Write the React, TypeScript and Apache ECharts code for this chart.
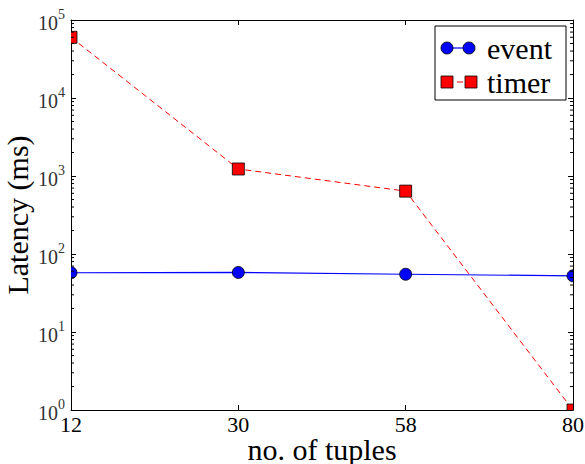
import React, { useEffect, useRef } from "react";
import * as echarts from "echarts";

const categories = ["12", "30", "58", "80"];
const eventLatency = [57.5, 58, 55, 52.5];
const timerLatency = [60000, 1230, 640, 1];
const yMin = 1;
const yMax = 100000;
const minorMultipliers = [2, 3, 4, 5, 6, 7, 8, 9];
const decadeStarts = [1, 10, 100, 1000, 10000];

const FONT = "'Liberation Serif', 'DejaVu Serif', serif";

export default function App() {
  const ref = useRef<HTMLDivElement>(null);

  useEffect(() => {
    if (!ref.current) return;
    const chart = echarts.init(ref.current, undefined, { renderer: "svg" });

    const minorValues: number[][] = [];
    decadeStarts.forEach((d) =>
      minorMultipliers.forEach((m) => minorValues.push([0, d * m]))
    );

    const lastIdx = categories.length - 1;

    const yAxisBase = {
      type: "log",
      logBase: 10,
      min: yMin,
      max: yMax,
      splitLine: { show: false },
      axisLine: { show: true, lineStyle: { color: "#000", width: 1 } },
      axisTick: { show: true, inside: true, length: 5, lineStyle: { color: "#000" } },
      minorTick: { show: false },
    };

    const option: any = {
      animation: false,
      backgroundColor: "#fff",
      textStyle: { fontFamily: FONT, color: "#000" },
      grid: { left: 71, right: 12, top: 20, bottom: 54, containLabel: false, outerBoundsMode: "none" },
      xAxis: [
        {
          type: "category",
          data: categories,
          boundaryGap: false,
          position: "bottom",
          name: "no. of tuples",
          nameLocation: "middle",
          nameGap: 24,
          nameMoveOverlap: false,
          nameTextStyle: { fontFamily: FONT, fontSize: 30, color: "#000" },
          axisLine: { show: true, onZero: false, lineStyle: { color: "#000", width: 1 } },
          axisTick: { show: true, inside: true, length: 5, alignWithLabel: true, lineStyle: { color: "#000" } },
          axisLabel: { fontFamily: FONT, fontSize: 22, color: "#000", margin: 3 },
          splitLine: { show: false },
        },
        {
          type: "category",
          data: categories,
          boundaryGap: false,
          position: "top",
          axisLine: { show: true, onZero: false, lineStyle: { color: "#000", width: 1 } },
          axisTick: { show: true, inside: true, length: 5, lineStyle: { color: "#000" } },
          axisLabel: { show: false },
          splitLine: { show: false },
        },
      ],
      yAxis: [
        {
          ...yAxisBase,
          position: "left",
          name: "Latency (ms)",
          nameLocation: "middle",
          nameGap: 39,
          nameMoveOverlap: false,
          nameTextStyle: { fontFamily: FONT, fontSize: 30, lineHeight: 30, color: "#000" },
          axisLabel: {
            margin: 6,
            fontFamily: FONT,
            formatter: (v: number) => `{b|10}{s|${Math.round(Math.log10(v))}}`,
            rich: {
              b: { fontFamily: FONT, fontSize: 20, color: "#333", verticalAlign: "bottom", lineHeight: 26 },
              s: { fontFamily: FONT, fontSize: 14, color: "#333", verticalAlign: "top", lineHeight: 26 },
            },
          },
        },
        {
          ...yAxisBase,
          position: "right",
          axisLabel: { show: false },
        },
      ],
      series: [
        {
          name: "event",
          type: "line",
          data: eventLatency,
          symbol: "none",
          lineStyle: { color: "#0000ff", width: 1.2 },
          clip: true,
          z: 2,
        },
        {
          name: "timer",
          type: "line",
          data: timerLatency,
          symbol: "none",
          lineStyle: { color: "#ff0000", width: 1, type: [6, 4] },
          clip: true,
          z: 2,
        },
        {
          name: "eventMarkers",
          type: "custom",
          clip: true,
          silent: true,
          z: 3,
          data: eventLatency.map((v, i) => [i, v]),
          renderItem: (params: any, api: any) => {
            const p = api.coord([api.value(0), api.value(1)]);
            return {
              type: "circle",
              shape: { cx: p[0], cy: p[1], r: 6 },
              style: { fill: "#0000ff", stroke: "#000", lineWidth: 0.8 },
            };
          },
        },
        {
          name: "timerMarkers",
          type: "custom",
          clip: true,
          silent: true,
          z: 3,
          data: timerLatency.map((v, i) => [i, v]),
          renderItem: (params: any, api: any) => {
            const p = api.coord([api.value(0), api.value(1)]);
            return {
              type: "rect",
              shape: { x: p[0] - 6, y: p[1] - 6, width: 12, height: 12 },
              style: { fill: "#ff0000", stroke: "#000", lineWidth: 0.8 },
            };
          },
        },
        {
          name: "minorTicks",
          type: "custom",
          silent: true,
          z: 4,
          data: minorValues,
          renderItem: (params: any, api: any) => {
            const l = api.coord([0, api.value(1)]);
            const r = api.coord([lastIdx, api.value(1)]);
            return {
              type: "group",
              children: [
                {
                  type: "line",
                  shape: { x1: l[0], y1: l[1], x2: l[0] + 3, y2: l[1] },
                  style: { stroke: "#000", lineWidth: 1 },
                },
                {
                  type: "line",
                  shape: { x1: r[0], y1: r[1], x2: r[0] - 3, y2: r[1] },
                  style: { stroke: "#000", lineWidth: 1 },
                },
              ],
            };
          },
        },
      ],
      graphic: [
        {
          type: "group",
          z: 100,
          children: [
            {
              type: "rect",
              shape: { x: 435, y: 26, width: 131, height: 74 },
              style: { fill: "#fff", stroke: "#000", lineWidth: 1 },
            },
            {
              type: "line",
              shape: { x1: 447, y1: 48, x2: 469, y2: 48 },
              style: { stroke: "#0000ff", lineWidth: 1.2 },
            },
            { type: "circle", shape: { cx: 447, cy: 48, r: 6 }, style: { fill: "#0000ff", stroke: "#000", lineWidth: 0.8 } },
            { type: "circle", shape: { cx: 469, cy: 48, r: 6 }, style: { fill: "#0000ff", stroke: "#000", lineWidth: 0.8 } },
            {
              type: "text",
              x: 487,
              y: 48,
              style: { text: "event", fontFamily: FONT, fontSize: 30, fill: "#000", verticalAlign: "middle", align: "left" },
            },
            {
              type: "line",
              shape: { x1: 447, y1: 82, x2: 471, y2: 82 },
              style: { stroke: "#ff0000", lineWidth: 1, lineDash: [6, 4] },
            },
            { type: "rect", shape: { x: 441, y: 76, width: 12, height: 12 }, style: { fill: "#ff0000", stroke: "#000", lineWidth: 0.8 } },
            { type: "rect", shape: { x: 465, y: 76, width: 12, height: 12 }, style: { fill: "#ff0000", stroke: "#000", lineWidth: 0.8 } },
            {
              type: "text",
              x: 487,
              y: 82,
              style: { text: "timer", fontFamily: FONT, fontSize: 30, fill: "#000", verticalAlign: "middle", align: "left" },
            },
          ],
        },
      ],
    };

    chart.setOption(option);
    return () => chart.dispose();
  }, []);

  return (
    <div
      ref={ref}
      style={{ position: "fixed", left: 0, top: 0, width: 585, height: 464 }}
    />
  );
}
